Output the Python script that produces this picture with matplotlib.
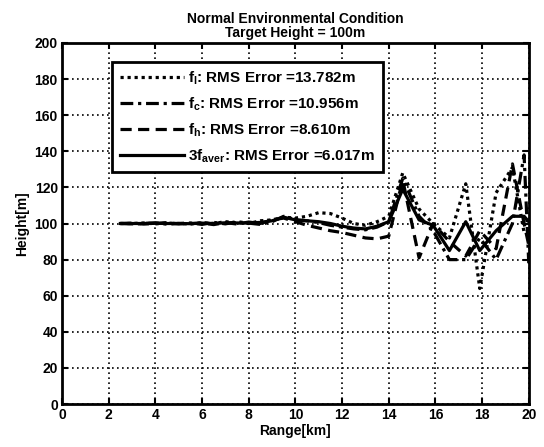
import matplotlib
matplotlib.use("Agg")
import matplotlib.pyplot as plt
from matplotlib import font_manager

# font: narrow bold, similar to the scanned MATLAB figure
names = {f.name for f in font_manager.fontManager.ttflist}
fam = 'Liberation Sans'
for cand in ['Liberation Sans Narrow', 'DejaVu Sans Condensed']:
    if cand in names:
        fam = cand
        break
plt.rcParams['font.family'] = [fam, 'DejaVu Sans']
plt.rcParams['font.weight'] = 'bold'
plt.rcParams['mathtext.fontset'] = 'custom'
plt.rcParams['mathtext.rm'] = fam + ':bold'
plt.rcParams['mathtext.it'] = fam + ':bold'
plt.rcParams['mathtext.bf'] = fam + ':bold'

# range samples [km]
range_km = [2.5, 3.0, 3.5, 4.0, 4.5, 5.0, 5.5, 6.0, 6.5, 7.0, 7.5, 8.0, 8.5, 9.0,
            9.5, 10.0, 10.5, 11.0, 11.5, 12.0, 12.5, 13.0, 13.5, 14.0, 14.6,
            15.3, 15.9, 16.6, 17.3, 17.9, 18.6, 19.3, 19.8, 20.0]

# estimated heights [m]
f_l = [100, 100, 100.3, 99.8, 100.2, 100, 99.7, 100.5, 100, 101, 100.4, 100, 101.5,
       102, 103.5, 103, 104, 106, 105.5, 103, 100, 99, 101, 104, 128,
       108, 100, 92, 122, 64, 117, 131, 95, 96]
f_c = [100, 99.8, 100, 100.4, 99.6, 100, 100.3, 99.5, 100.6, 99.8, 101, 100.2, 99.5,
       101, 104, 102, 101.5, 100.5, 99, 98, 97, 96.5, 98, 101, 125,
       104, 96, 80, 80, 92, 80, 100, 138, 78]
f_h = [100, 100.2, 99.7, 100, 100.5, 99.8, 100, 100.2, 99.4, 100.5, 99.7, 100.8, 100,
       102, 103, 101, 99, 97.5, 96, 95, 93.5, 92, 91.5, 93, 124,
       81, 100, 90, 82, 96, 86, 133, 100, 88]
f_aver = [100, 100, 100, 100.1, 100, 100, 99.9, 100.2, 100, 100.4, 100.3, 100.3, 100.6,
          101.5, 103.5, 102, 101.5, 101, 100, 98.5, 97.5, 97, 98.5, 101, 119,
          102, 99, 85, 101, 85, 96, 104, 104, 101]

labels = [r'$\mathregular{f_l}$: RMS Error =13.782m',
          r'$\mathregular{f_c}$: RMS Error =10.956m',
          r'$\mathregular{f_h}$: RMS Error =8.610m',
          r'$\mathregular{3f_{aver}}$: RMS Error =6.017m']

fig = plt.figure(figsize=(5.44, 4.47), dpi=100)
ax = fig.add_axes([0.114, 0.096, 0.858, 0.808])

lw = 2.3
ax.plot(range_km, f_l, color='black', lw=lw, linestyle=(0, (1, 1.2)), label=labels[0])
ax.plot(range_km, f_c, color='black', lw=lw, linestyle=(0, (4, 1.5, 1, 1.5)), label=labels[1])
ax.plot(range_km, f_h, color='black', lw=lw, linestyle=(0, (3.5, 2)), label=labels[2])
ax.plot(range_km, f_aver, color='black', lw=lw, linestyle='-', label=labels[3])

ax.set_xlim(0, 20)
ax.set_ylim(0, 200)
ax.set_xticks(range(0, 21, 2))
ax.set_yticks(range(0, 201, 20))
ax.grid(True, color='black', linestyle=(0, (1, 2)), linewidth=1.2)
ax.tick_params(direction='in', top=True, right=True, labelsize=10, length=4, width=1.5, pad=3)
for s in ax.spines.values():
    s.set_linewidth(2)

ax.set_xlabel('Range[km]', fontsize=10, fontweight='bold', labelpad=1)
ax.set_ylabel('Height[m]', fontsize=10, fontweight='bold', labelpad=4)
ax.set_title('Normal Environmental Condition\nTarget Height = 100m',
             fontsize=10, fontweight='bold', pad=4, linespacing=1.05)

leg = ax.legend(loc='upper left', bbox_to_anchor=(0.107, 0.947), borderaxespad=0,
                fontsize=11, handlelength=4.2, handletextpad=0.3, labelspacing=0.55,
                frameon=True, fancybox=False, borderpad=0.5)
leg.get_frame().set_edgecolor('black')
leg.get_frame().set_linewidth(2)
leg.get_frame().set_alpha(1)

fig.savefig('out.png', dpi=100)
